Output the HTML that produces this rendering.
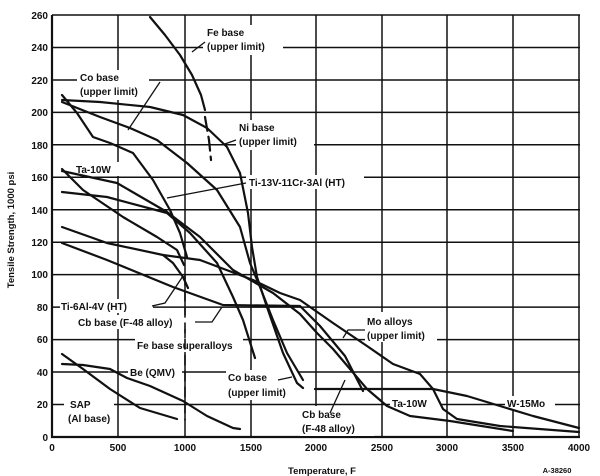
<!DOCTYPE html>
<html><head><meta charset="utf-8"><style>
html,body{margin:0;padding:0;background:#fff;}
svg{display:block;}
text{font-family:"Liberation Sans",sans-serif;font-weight:bold;fill:#111;}
</style></head><body>
<svg width="600" height="476" viewBox="0 0 600 476" xmlns="http://www.w3.org/2000/svg">
<g stroke="#111" stroke-width="1.5" fill="none">
<path d="M52 15H580M52 47.5H580M52 80H580M52 112.4H580M52 144.8H580M52 177.3H580M52 209.8H580M52 242.2H580M52 274.6H580M52 307.1H580M52 339.6H580M52 372H580M52 404.5H580"/>
<path d="M118 15V437M185 15V437M251 15V437M316 15V437M382 15V437M447 15V437M513 15V437M579 15V437"/>
<path d="M52 15V437H580" stroke-width="2.2"/>
</g>
<g fill="#fff">
<rect x="203" y="25" width="80" height="30"/>
<rect x="77" y="70" width="72" height="30"/>
<rect x="236" y="120" width="78" height="30"/>
<rect x="72" y="162" width="50" height="14"/>
<rect x="246" y="175" width="118" height="14"/>
<rect x="60" y="299" width="93" height="14"/>
<rect x="76" y="315" width="118" height="14"/>
<rect x="135" y="338" width="108" height="14"/>
<rect x="365" y="312" width="72" height="30"/>
<rect x="128" y="365" width="54" height="14"/>
<rect x="64" y="397" width="50" height="30"/>
<rect x="226" y="370" width="72" height="30"/>
<rect x="300" y="406" width="74" height="30"/>
<rect x="390" y="396" width="50" height="14"/>
<rect x="505" y="396" width="50" height="14"/>
</g>
<g stroke="#111" stroke-width="2.2" fill="none" stroke-linejoin="round" stroke-linecap="round">
<polyline points="150,17 165,35 180,55 192,75 201,95 205,110"/>
<polyline points="205,117 209,140 211,160" stroke-dasharray="14,6"/>
<!-- Ni -->
<polyline points="62,100 100,102 150,107 183,115 207,128 227,147 240,173 248,213 252,247 257,277 267,307 283,353 297,383 303,388"/>
<!-- Co -->
<polyline points="62,102 100,117 130,128 157,140 187,163 217,190 240,227 250,263 260,287 273,320 287,353 303,380"/>
<!-- Ti-13V -->
<polyline points="62,95 77,113 93,137 110,143 133,153 153,180 170,210 180,233 187,257"/>
<!-- Ta-10W -->
<polyline points="62,171 117,183 167,212 200,237 233,270 273,293 300,314 317,333 333,349 350,369 367,389 387,406 410,416 450,421 513,431"/>
<!-- steep from 165 -->
<polyline points="62,169 83,190 123,217 157,237 177,250 184,265"/>
<polyline points="185,275 185,420" stroke-dasharray="10,6" stroke-width="1.6"/>
<!-- Fe base superalloys -->
<polyline points="62,192 107,197 167,213 190,233 217,263 233,297 243,320 255,358"/>
<!-- Ti-6Al-4V -->
<polyline points="62,227 107,243 163,255 173,263 183,277 188,288"/>
<!-- Mo -->
<polyline points="163,255 200,260 253,280 280,293 300,300 333,323 367,346 393,364 420,374 433,389 443,409 457,419 500,426 579,432"/>
<!-- Cb -->
<polyline points="62,243 107,260 173,287 223,305 300,306 320,326 345,356 363,391"/>
<!-- W-15Mo -->
<polyline points="315,389 433,389 467,396 500,406 533,416 579,428"/>
<!-- Be -->
<polyline points="62,364 83,365 110,369 127,378 150,386 183,401 207,416 233,428 240,429"/>
<!-- SAP -->
<polyline points="62,354 83,369 110,389 140,408 177,419"/>
</g>
<g stroke="#111" stroke-width="1.3" fill="none">
<path d="M205 42 L192 52"/>
<path d="M160 82 L128 130"/>
<path d="M236 140 L222 145"/>
<path d="M246 183 L167 198"/>
<path d="M152 306 L165 303 L183 276"/>
<path d="M195 322 L212 322 L222 307"/>
<path d="M365 330 L348 330 L343 338"/>
<path d="M330 413 L345 380"/>
<path d="M278 380 L292 377"/>
</g>
<g font-size="10">
<text x="207" y="36">Fe base</text><text x="207" y="50">(upper limit)</text>
<text x="80" y="81">Co base</text><text x="80" y="95">(upper limit)</text>
<text x="239" y="131">Ni base</text><text x="239" y="145">(upper limit)</text>
<text x="76" y="173">Ta-10W</text>
<text x="249" y="186">Ti-13V-11Cr-3Al (HT)</text>
<text x="61" y="310">Ti-6Al-4V (HT)</text>
<text x="78" y="326">Cb base (F-48 alloy)</text>
<text x="137" y="349">Fe base superalloys</text>
<text x="367" y="325">Mo alloys</text><text x="367" y="339">(upper limit)</text>
<text x="130" y="376">Be (QMV)</text>
<text x="70" y="408">SAP</text><text x="68" y="422">(Al base)</text>
<text x="228" y="381">Co base</text><text x="228" y="396">(upper limit)</text>
<text x="392" y="407">Ta-10W</text>
<text x="507" y="407">W-15Mo</text>
<text x="302" y="418">Cb base</text><text x="302" y="432">(F-48 alloy)</text>
</g>
<g font-size="10" text-anchor="end">
<text x="48" y="19">260</text><text x="48" y="51">240</text><text x="48" y="84">220</text><text x="48" y="116">200</text><text x="48" y="149">180</text><text x="48" y="181">160</text><text x="48" y="214">140</text><text x="48" y="246">120</text><text x="48" y="278">100</text><text x="48" y="311">80</text><text x="48" y="343">60</text><text x="48" y="376">40</text><text x="48" y="408">20</text><text x="48" y="441">0</text>
</g>
<g font-size="10" text-anchor="middle">
<text x="52" y="451">0</text><text x="118" y="451">500</text><text x="185" y="451">1000</text><text x="251" y="451">1500</text><text x="316" y="451">2000</text><text x="382" y="451">2500</text><text x="447" y="451">3000</text><text x="513" y="451">3500</text><text x="579" y="451">4000</text>
<text x="322" y="474" font-size="9.5">Temperature, F</text>
<text x="557" y="473" font-size="7.5">A-38260</text>
<text transform="translate(14,230) rotate(-90)" font-size="9.5">Tensile Strength, 1000 psi</text>
</g>
</svg>
</body></html>
